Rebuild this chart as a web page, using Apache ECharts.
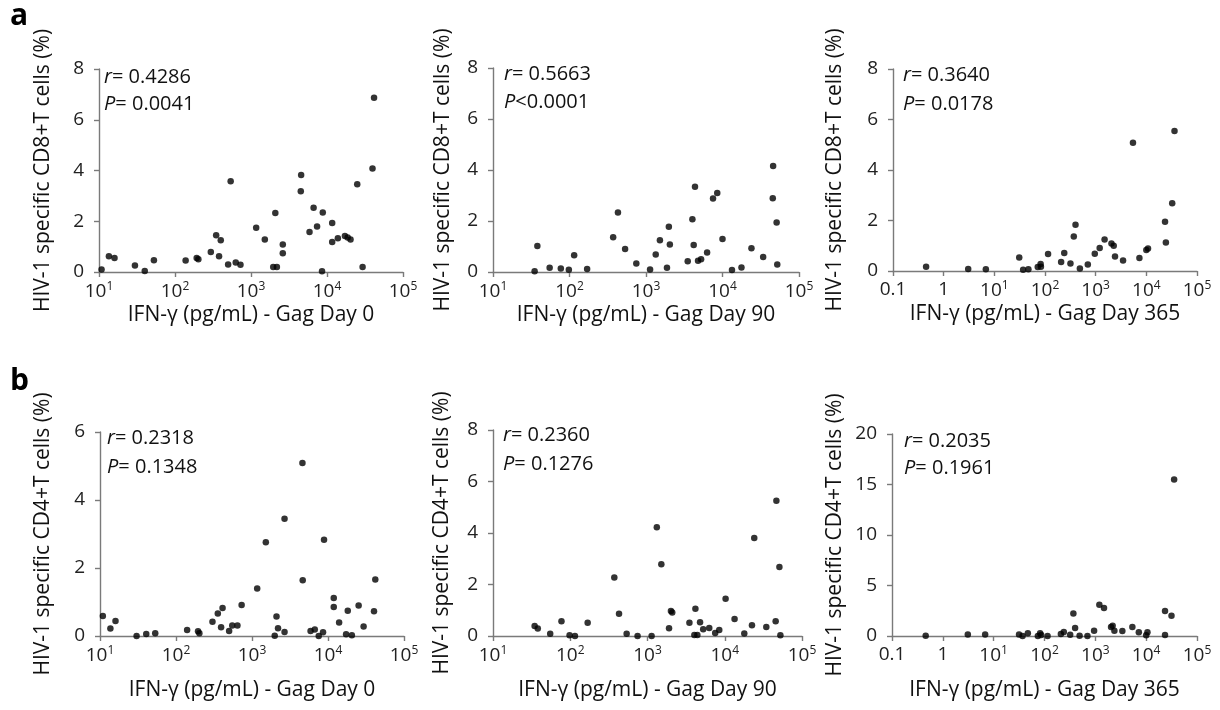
<!DOCTYPE html>
<html lang="en">
<head>
    <meta charset="UTF-8">
    <script src="https://cdn.jsdelivr.net/npm/echarts@6/dist/echarts.min.js"></script>
    <title>IFN-g vs HIV-1 specific T cells</title>
</head>
<style>
    html, body { margin: 0; padding: 0; background: #fff; }
    #chart { width: 1220px; height: 710px; }
</style>
<body>
<div id="chart"></div>
<script>
    // CD8 - Day 0
    let cd8Day0X = [10.8, 13.5, 16, 29.7, 40, 52.8, 138, 193, 203, 296, 348, 400, 380, 500, 540, 630, 727, 1170, 1520, 1960, 2090, 2190, 2620, 2620, 4570, 4520, 5890, 6660, 7400, 8600, 8800, 11700, 11700, 13900, 17200, 18700, 20400, 25000, 29400, 39700, 41600];
    let cd8Day0Y = [0.1, 0.62, 0.55, 0.26, 0.04, 0.46, 0.45, 0.55, 0.5, 0.79, 1.45, 1.25, 0.62, 0.3, 3.58, 0.37, 0.29, 1.74, 1.28, 0.2, 2.33, 0.2, 1.08, 0.74, 3.82, 3.18, 1.58, 2.53, 1.79, 0.03, 2.34, 1.93, 1.18, 1.33, 1.42, 1.36, 1.28, 3.46, 0.2, 4.08, 6.87];
    // CD8 - Day 90
    let cd8Day90X = [35, 38, 55, 77, 98, 115, 170, 372, 430, 533, 747, 1130, 1340, 1520, 1880, 1990, 2050, 3510, 4040, 4200, 4370, 4790, 5250, 6290, 7520, 8540, 10000, 13300, 17700, 23900, 34000, 45400, 45900, 51000, 52000];
    let cd8Day90Y = [0.03, 1.02, 0.17, 0.14, 0.09, 0.66, 0.12, 1.36, 2.33, 0.9, 0.33, 0.1, 0.69, 1.25, 0.17, 1.77, 1.08, 0.42, 2.07, 1.06, 3.34, 0.44, 0.5, 0.76, 2.88, 3.1, 1.29, 0.08, 0.18, 0.93, 0.59, 2.89, 4.16, 1.94, 0.29];
    // CD8 - Day 365
    let cd8Day365X = [0.45, 3.05, 6.8, 31, 37, 47, 72, 82, 83, 115, 208, 240, 318, 370, 400, 488, 700, 960, 1200, 1500, 2050, 2270, 2410, 3470, 5450, 7300, 10000, 10800, 23400, 24300, 32400, 36000];
    let cd8Day365Y = [0.17, 0.08, 0.07, 0.53, 0.05, 0.07, 0.16, 0.28, 0.17, 0.67, 0.36, 0.71, 0.3, 1.37, 1.83, 0.1, 0.26, 0.68, 0.91, 1.25, 1.09, 1.0, 0.57, 0.42, 5.08, 0.51, 0.83, 0.89, 1.95, 1.13, 2.68, 5.54];
    // CD4 - Day 0
    let cd4Day0X = [10.9, 13.7, 16, 30.3, 40.6, 53.3, 140, 195, 203, 302, 355, 392, 410, 500, 550, 643, 730, 1170, 1520, 1990, 2100, 2200, 2680, 2680, 4610, 4650, 5900, 6700, 7550, 8600, 8870, 11900, 11900, 14000, 17300, 18200, 20600, 25300, 29400, 40300, 41900];
    let cd4Day0Y = [0.59, 0.22, 0.44, 0.0, 0.06, 0.08, 0.18, 0.14, 0.08, 0.42, 0.66, 0.26, 0.82, 0.15, 0.31, 0.31, 0.91, 1.4, 2.76, 0.01, 0.57, 0.23, 3.45, 0.12, 5.09, 1.64, 0.15, 0.19, 0.0, 0.11, 2.83, 1.12, 0.85, 0.4, 0.05, 0.74, 0.02, 0.9, 0.28, 0.73, 1.66];
    // CD4 - Day 90
    let cd4Day90X = [34.6, 38, 55, 77, 98, 115, 168, 372, 428, 537, 744, 1130, 1320, 1510, 1900, 2010, 2090, 3490, 4040, 4170, 4420, 4790, 5260, 6300, 7520, 8490, 10250, 13400, 17900, 22500, 24100, 34500, 45600, 46600, 51000, 52500];
    let cd4Day90Y = [0.39, 0.29, 0.09, 0.57, 0.03, 0.0, 0.51, 2.27, 0.86, 0.09, 0.0, 0.0, 4.22, 2.79, 0.3, 0.97, 0.91, 0.51, 0.04, 1.06, 0.04, 0.53, 0.26, 0.31, 0.12, 0.23, 1.45, 0.66, 0.1, 0.42, 3.81, 0.35, 0.57, 5.25, 2.68, 0.03];
    // CD4 - Day 365
    let cd4Day365X = [0.46, 3.1, 6.8, 31.6, 37, 47, 74, 82, 86, 115, 210, 240, 320, 370, 400, 490, 700, 945, 1200, 1480, 2040, 2190, 2370, 3400, 5350, 7170, 10000, 10600, 23500, 23500, 31500, 35500];
    let cd4Day365Y = [0.03, 0.16, 0.16, 0.16, 0.0, 0.26, 0.0, 0.26, 0.1, 0.0, 0.2, 0.4, 0.13, 2.24, 0.79, 0.03, 0.0, 0.53, 3.09, 2.76, 0.89, 1.02, 0.53, 0.49, 0.89, 0.36, 0.07, 0.36, 2.47, 0.1, 2.0, 15.5];

    let rValues = ['0.4286', '0.5663', '0.3640', '0.2318', '0.2360', '0.2035'];
    let pValues = ['= 0.0041', '<0.0001', '= 0.0178', '= 0.1348', '= 0.1276', '= 0.1961'];
    let xTitles = ['IFN-γ (pg/mL) - Gag Day 0', 'IFN-γ (pg/mL) - Gag Day 90', 'IFN-γ (pg/mL) - Gag Day 365'];
    let yTitles = ['HIV-1 specific CD8+T cells (%)', 'HIV-1 specific CD4+T cells (%)'];
    // labels by decade exponent, starting at 10^-1
    let decadeLabels = ['0.1', '1', '10{s|1}', '10{s|2}', '10{s|3}', '10{s|4}', '10{s|5}'];

    let font = 'Open Sans';
    let axisGray = '#7a7a7a';

    let panels = [
        { x: cd8Day0X, y: cd8Day0Y, xmin: 10, ymax: 8, yint: 2, grid: { left: 99, right: 817, top: 69, bottom: 438 }, xt: 0, yt: 0, xgap: 33, ygap: 45, txt: [104, 80, 107] },
        { x: cd8Day90X, y: cd8Day90Y, xmin: 10, ymax: 8, yint: 2, grid: { left: 493, right: 421, top: 68, bottom: 438 }, xt: 1, yt: 0, xgap: 33, ygap: 39, txt: [504, 77, 105] },
        { x: cd8Day365X, y: cd8Day365Y, xmin: 0.1, ymax: 8, yint: 2, grid: { left: 893, right: 23, top: 69, bottom: 439 }, xt: 2, yt: 0, xgap: 33, ygap: 47, txt: [903, 78, 107] },
        { x: cd4Day0X, y: cd4Day0Y, xmin: 10, ymax: 6, yint: 2, grid: { left: 100, right: 816, top: 432, bottom: 74 }, xt: 0, yt: 1, xgap: 44, ygap: 46, txt: [107, 441, 470] },
        { x: cd4Day90X, y: cd4Day90Y, xmin: 10, ymax: 8, yint: 2, grid: { left: 493, right: 418, top: 430, bottom: 74 }, xt: 1, yt: 1, xgap: 44, ygap: 40, txt: [503, 438, 467] },
        { x: cd4Day365X, y: cd4Day365Y, xmin: 0.1, ymax: 20, yint: 5, grid: { left: 892, right: 23, top: 434, bottom: 74 }, xt: 2, yt: 1, xgap: 44, ygap: 46, txt: [904, 444, 471] }
    ];

    let grids = [], xAxes = [], yAxes = [], series = [], graphics = [];

    panels.forEach(function (p, i) {
        grids.push(p.grid);
        xAxes.push({
            gridIndex: i,
            type: 'log',
            logBase: 10,
            min: p.xmin,
            max: 100000,
            interval: 1,
            name: xTitles[p.xt],
            nameLocation: 'middle',
            nameGap: p.xgap,
            nameTextStyle: { fontFamily: font, fontSize: 21, color: '#111' },
            axisLine: { lineStyle: { color: axisGray, width: 1.4 } },
            axisTick: { length: 5, lineStyle: { color: axisGray, width: 1.4 } },
            splitLine: { show: false },
            minorTick: { show: false },
            axisLabel: {
                margin: 9,
                fontFamily: font,
                fontSize: 19,
                color: '#222',
                formatter: function (v) {
                    let e = Math.round(Math.log10(v));
                    return decadeLabels[e + 1];
                },
                rich: {
                    s: { fontFamily: font, fontSize: 12, color: '#222', padding: [0, 0, 10, 0] }
                }
            }
        });
        yAxes.push({
            gridIndex: i,
            type: 'value',
            min: 0,
            max: p.ymax,
            interval: p.yint,
            name: yTitles[p.yt],
            nameLocation: 'middle',
            nameGap: p.ygap,
            nameTextStyle: { fontFamily: font, fontSize: 21, color: '#111' },
            axisLine: { show: true, lineStyle: { color: axisGray, width: 1.4 } },
            axisTick: { show: true, length: 5, lineStyle: { color: axisGray, width: 1.4 } },
            splitLine: { show: false },
            axisLabel: { margin: 15, fontFamily: font, fontSize: 19, color: '#222' }
        });
        series.push({
            type: 'scatter',
            xAxisIndex: i,
            yAxisIndex: i,
            symbolSize: 6.5,
            itemStyle: { color: '#000' },
            data: p.x.map(function (xv, k) { return [xv, p.y[k]]; })
        });
        let rich = { i: { fontStyle: 'italic', fontFamily: font, fontSize: 20, fill: '#111' } };
        graphics.push({
            type: 'text', left: p.txt[0], top: p.txt[1] - 13,
            style: { text: '{i|r}= ' + rValues[i], font: '20px "' + font + '"', fill: '#111', rich: rich }
        });
        graphics.push({
            type: 'text', left: p.txt[0], top: p.txt[2] - 13,
            style: { text: '{i|P}' + pValues[i], font: '20px "' + font + '"', fill: '#111', rich: rich }
        });
    });

    graphics.push({ type: 'text', left: 10, top: 1, style: { text: 'a', font: 'bold 30px "' + font + '"', fill: '#000' } });
    graphics.push({ type: 'text', left: 10, top: 366, style: { text: 'b', font: 'bold 30px "' + font + '"', fill: '#000' } });

    let option = {
        backgroundColor: '#fff',
        animation: false,
        grid: grids,
        xAxis: xAxes,
        yAxis: yAxes,
        series: series,
        graphic: graphics
    };
    let myChart = echarts.init(document.getElementById('chart'));
    myChart.setOption(option);
</script>
</body>
</html>
